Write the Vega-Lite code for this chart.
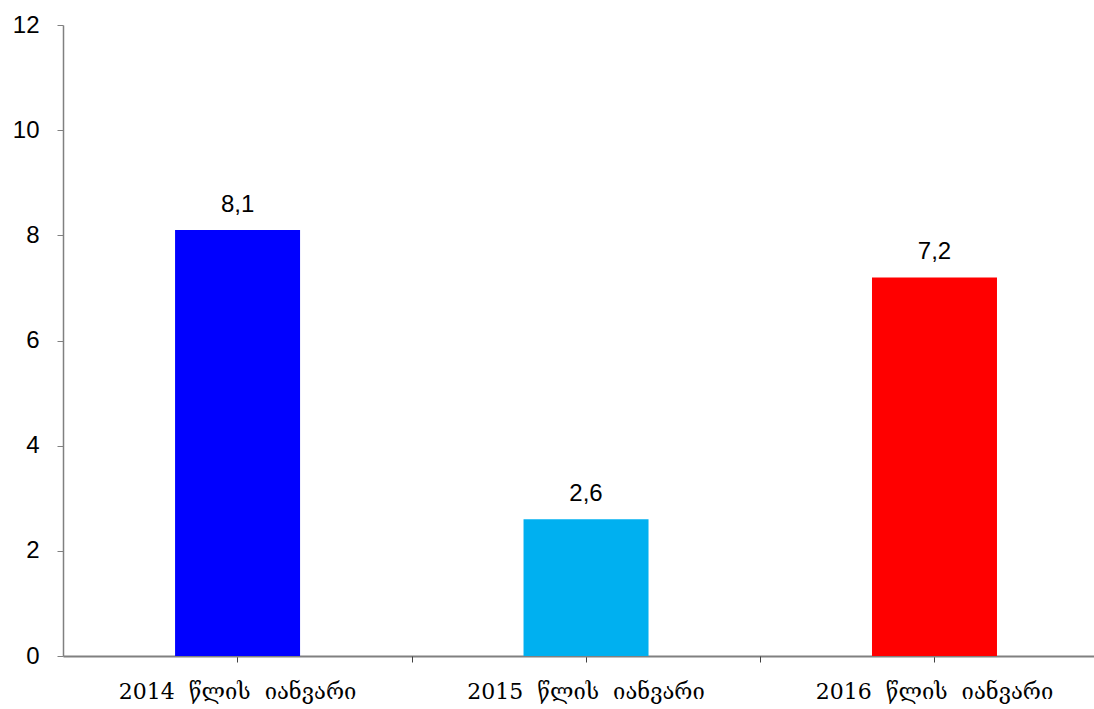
{
  "$schema": "https://vega.github.io/schema/vega-lite/v6.json",
  "width": 1031,
  "height": 631,
  "autosize": "none",
  "padding": {"left": 63, "top": 25, "right": 0, "bottom": 53},
  "background": "white",
  "config": {"view": {"stroke": null}},
  "data": {"values": [
    {"cat": "2014\u00a0 წლის\u00a0 იანვარი", "v": 8.1, "label": "8,1", "color": "#0000FF"},
    {"cat": "2015\u00a0 წლის\u00a0 იანვარი", "v": 2.6, "label": "2,6", "color": "#00B0F0"},
    {"cat": "2016\u00a0 წლის\u00a0 იანვარი", "v": 7.2, "label": "7,2", "color": "#FF0000"}
  ]},
  "encoding": {
    "x": {"field": "cat", "type": "nominal", "sort": null,
      "scale": {"paddingInner": 0.6413, "paddingOuter": 0.3, "align": 0.536}}
  },
  "layer": [
    {
      "mark": {"type": "bar"},
      "encoding": {
        "x": {"field": "cat", "type": "nominal", "sort": null,
          "axis": {"title": null, "orient": "bottom", "labelAngle": 0, "labelFont": "DejaVu Serif", "labelFontSize": 22, "labelColor": "black", "labelLimit": 0,
            "labelPadding": 19, "domainColor": "#808080", "domainWidth": 2, "tickColor": "#404040", "tickSize": 6, "tickWidth": 1}},
        "y": {"field": "v", "type": "quantitative",
          "scale": {"domain": [0, 12], "nice": false},
          "axis": {"title": null, "values": [0, 2, 4, 6, 8, 10, 12], "grid": false, "labelFont": "Liberation Sans", "labelFontSize": 24,
            "labelColor": "black", "labelPadding": 18, "domainColor": "#808080", "domainWidth": 1.5, "tickColor": "#808080", "tickSize": 6}},
        "color": {"field": "color", "type": "nominal", "scale": null, "legend": null}
      }
    },
    {
      "mark": {"type": "text", "dy": -13, "font": "Liberation Sans", "fontSize": 24, "color": "black", "baseline": "bottom"},
      "encoding": {
        "x": {"field": "cat", "type": "nominal", "sort": null,
          "axis": {"title": null, "orient": "bottom", "labels": false, "domain": false, "tickOffset": 174, "tickColor": "#404040", "tickSize": 6}},
        "y": {"field": "v", "type": "quantitative"},
        "text": {"field": "label"}
      }
    }
  ],
  "resolve": {"axis": {"x": "independent"}}
}
